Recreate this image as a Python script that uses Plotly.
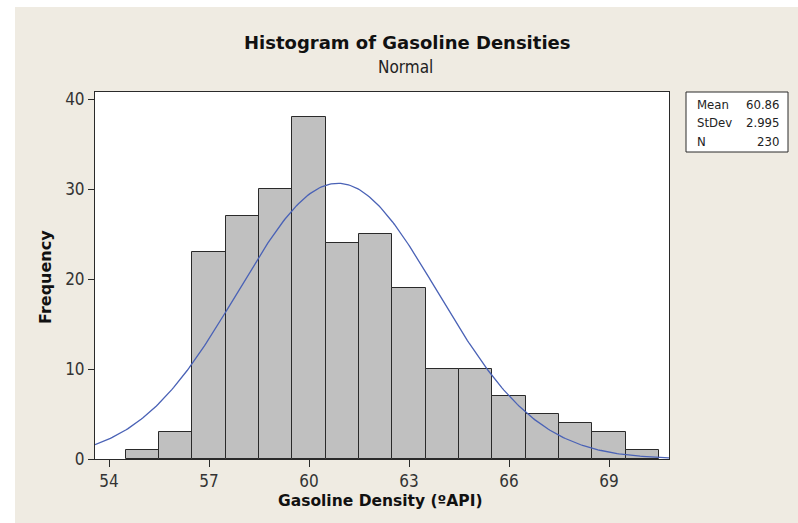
import numpy as np
import plotly.graph_objects as go

# ---- data ----
bin_centers = [55, 56, 57, 58, 59, 60, 61, 62, 63, 64, 65, 66, 67, 68, 69, 70]
frequencies = [1, 3, 23, 27, 30, 38, 24, 25, 19, 10, 10, 7, 5, 4, 3, 1]
bin_width = 1.0
x_ticks = [54, 57, 60, 63, 66, 69]
y_ticks = [0, 10, 20, 30, 40]
fit_mean = 60.86
fit_stdev = 2.995
fit_n = 230
stats_labels = ["Mean", "StDev", "N"]
stats_values = ["60.86", "2.995", "230"]

x_range = [53.58, 70.8]
y_range = [0, 40.78]

# fitted normal curve from the displayed parameters
xs = np.linspace(x_range[0], x_range[1], 300)
ys = fit_n * bin_width / (fit_stdev * np.sqrt(2 * np.pi)) * np.exp(-0.5 * ((xs - fit_mean) / fit_stdev) ** 2)

FONT = "DejaVu Sans Condensed, DejaVu Sans, sans-serif"
BOLD = "DejaVu Sans, sans-serif"
BG = "#EFEBE2"
INK = "#2a2a2a"

# pixel helpers for the layout (plot area 95..669 x, 92..459 y)
L, R, T, B = 95, 669, 92, 459
W, H = R - L, B - T
def px(p):
    return (p - L) / W
def py(p):
    return (B - p) / H

fig = go.Figure()
fig.add_trace(go.Bar(
    x=bin_centers, y=frequencies, width=bin_width,
    marker=dict(color="#C0C0C0", line=dict(color=INK, width=1)),
    showlegend=False, hoverinfo="x+y"))
fig.add_trace(go.Scatter(
    x=xs, y=ys, mode="lines",
    line=dict(color="#4A62B6", width=1.3),
    showlegend=False, hoverinfo="skip"))

shapes = [
    # white strips at left and top of the image
    dict(type="rect", xref="paper", yref="paper", x0=px(0), x1=px(15), y0=py(523), y1=py(0),
         fillcolor="white", line=dict(width=0), layer="below"),
    dict(type="rect", xref="paper", yref="paper", x0=px(0), x1=px(798), y0=py(7), y1=py(0),
         fillcolor="white", line=dict(width=0), layer="below"),
    # stats box
    dict(type="rect", xref="paper", yref="paper", x0=px(686), x1=px(788), y0=py(152), y1=py(92),
         fillcolor="white", line=dict(color=INK, width=1)),
]

annotations = [
    dict(text="<b>Histogram of Gasoline Densities</b>", x=px(407), y=py(43), xref="paper", yref="paper",
         showarrow=False, xanchor="center", yanchor="middle", font=dict(family=BOLD, size=18, color="#111")),
    dict(text="Normal", x=px(405), y=py(67), xref="paper", yref="paper",
         showarrow=False, xanchor="center", yanchor="middle", font=dict(family=FONT, size=17, color="#222")),
    dict(text="<b>Gasoline Density (ºAPI)</b>", x=px(380), y=py(501), xref="paper", yref="paper",
         showarrow=False, xanchor="center", yanchor="middle", font=dict(family=BOLD, size=15.5, color="#111")),
    dict(text="<b>Frequency</b>", x=px(45), y=py(277), xref="paper", yref="paper", textangle=-90,
         showarrow=False, xanchor="center", yanchor="middle", font=dict(family=BOLD, size=16, color="#111")),
]
row_y = [104, 122.5, 141]
for lab, val, ry in zip(stats_labels, stats_values, row_y):
    annotations.append(dict(text=lab, x=px(695), y=py(ry), xref="paper", yref="paper", showarrow=False,
                            xanchor="left", yanchor="middle", font=dict(family=FONT, size=13, color="#222")))
    annotations.append(dict(text=val, x=px(781), y=py(ry), xref="paper", yref="paper", showarrow=False,
                            xanchor="right", yanchor="middle", font=dict(family=FONT, size=13, color="#222")))

fig.update_layout(
    width=798, height=523,
    margin=dict(l=L, r=798 - R, t=T, b=523 - B, pad=0),
    paper_bgcolor=BG, plot_bgcolor="white",
    bargap=0, shapes=shapes, annotations=annotations,
    font=dict(family=FONT, color="#333"),
    xaxis=dict(range=x_range, tickvals=x_ticks, ticktext=[str(v) for v in x_ticks],
               showgrid=False, zeroline=False, showline=True, mirror=True,
               linecolor=INK, linewidth=1, ticks="outside", ticklen=7, tickcolor=INK,
               tickfont=dict(family=FONT, size=17, color="#333")),
    yaxis=dict(range=y_range, tickvals=y_ticks, ticktext=[str(v) for v in y_ticks],
               showgrid=False, zeroline=False, showline=True, mirror=True,
               linecolor=INK, linewidth=1, ticks="outside", ticklen=6, tickcolor=INK,
               tickfont=dict(family=FONT, size=17, color="#333")),
)

fig.write_html("out.html", config={"displayModeBar": False},
               post_script="document.body.style.margin='0';document.body.style.background='#EFEBE2';")
